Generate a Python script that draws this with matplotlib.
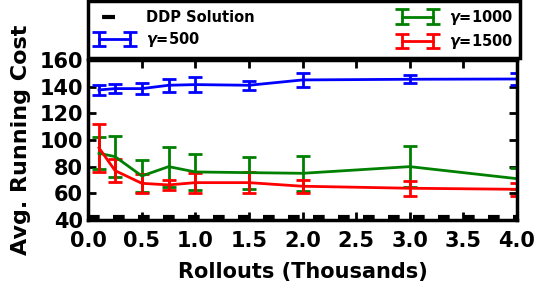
import matplotlib
matplotlib.use("Agg")
import matplotlib.pyplot as plt
from matplotlib.lines import Line2D
from matplotlib.legend_handler import HandlerLine2D

# rollouts in thousands
rollouts = [0.1, 0.25, 0.5, 0.75, 1.0, 1.5, 2.0, 3.0, 4.0]

cost_500 = [137.5, 138.5, 138.5, 141.0, 141.5, 141.0, 145.0, 145.5, 145.7]
err_500 = [4.0, 3.5, 4.0, 5.0, 5.5, 3.4, 5.0, 3.0, 4.4]

cost_1000 = [90.0, 87.5, 73.0, 80.0, 76.0, 75.5, 75.0, 80.0, 71.0]
err_1000 = [12.0, 15.5, 12.0, 15.0, 13.5, 12.0, 13.0, 15.5, 8.0]

cost_1500 = [94.0, 77.0, 67.5, 66.3, 68.0, 68.0, 65.3, 63.8, 63.0]
err_1500 = [18.0, 8.5, 7.0, 3.8, 7.5, 8.0, 4.8, 5.8, 5.0]

ddp_cost = 42.0

plt.rcParams["font.weight"] = "bold"
plt.rcParams["axes.labelweight"] = "bold"

fig = plt.figure(figsize=(5.4, 2.84), dpi=100)
ax = fig.add_axes([0.1635, 0.2254, 0.7935, 0.5636])

# DDP reference cost (dashed, thick)
ax.plot([0, 4], [ddp_cost, ddp_cost], color="black", linewidth=3,
        linestyle=(0, (2.8, 3.2)), zorder=1)

kw = dict(linewidth=2, elinewidth=2, capsize=5, capthick=2)
h500 = ax.errorbar(rollouts, cost_500, yerr=err_500, color="blue", **kw)
h1000 = ax.errorbar(rollouts, cost_1000, yerr=err_1000, color="green", **kw)
h1500 = ax.errorbar(rollouts, cost_1500, yerr=err_1500, color="red", **kw)

ax.set_xlim(0, 4)
ax.set_ylim(40, 160)
ax.set_xticks([i * 0.5 for i in range(9)])
ax.set_yticks(range(40, 161, 20))
ax.tick_params(direction="in", length=6, width=2, top=True, right=True,
               labelsize=15)
ax.tick_params(axis="x", pad=8)
ax.tick_params(axis="y", pad=4)
for sp in ax.spines.values():
    sp.set_linewidth(2.5)

ax.set_xlabel("Rollouts (Thousands)", fontsize=15, labelpad=8)
ax.set_ylabel("Avg. Running Cost", fontsize=16, labelpad=6)

# legend proxy: one short dash for the DDP line
h_ddp = Line2D([], [], color="black", linewidth=3,
               linestyle=(7.4, (3.1, 6.0)))

leg = ax.legend([h_ddp, h500, h1000, h1500],
                ["DDP Solution", r"$\gamma$=500", r"$\gamma$=1000", r"$\gamma$=1500"],
                loc="lower left", bbox_to_anchor=(0, 1.015, 1.007, 0.4),
                mode="expand", ncol=2, borderaxespad=0, fancybox=False,
                framealpha=1, prop={"weight": "bold", "size": 10.5},
                handlelength=2.7, borderpad=0.45, labelspacing=0.35,
                numpoints=2, handler_map={h_ddp: HandlerLine2D(numpoints=1)})
leg.get_frame().set_edgecolor("black")
leg.get_frame().set_linewidth(2.5)

fig.savefig("out.png", dpi=100)
